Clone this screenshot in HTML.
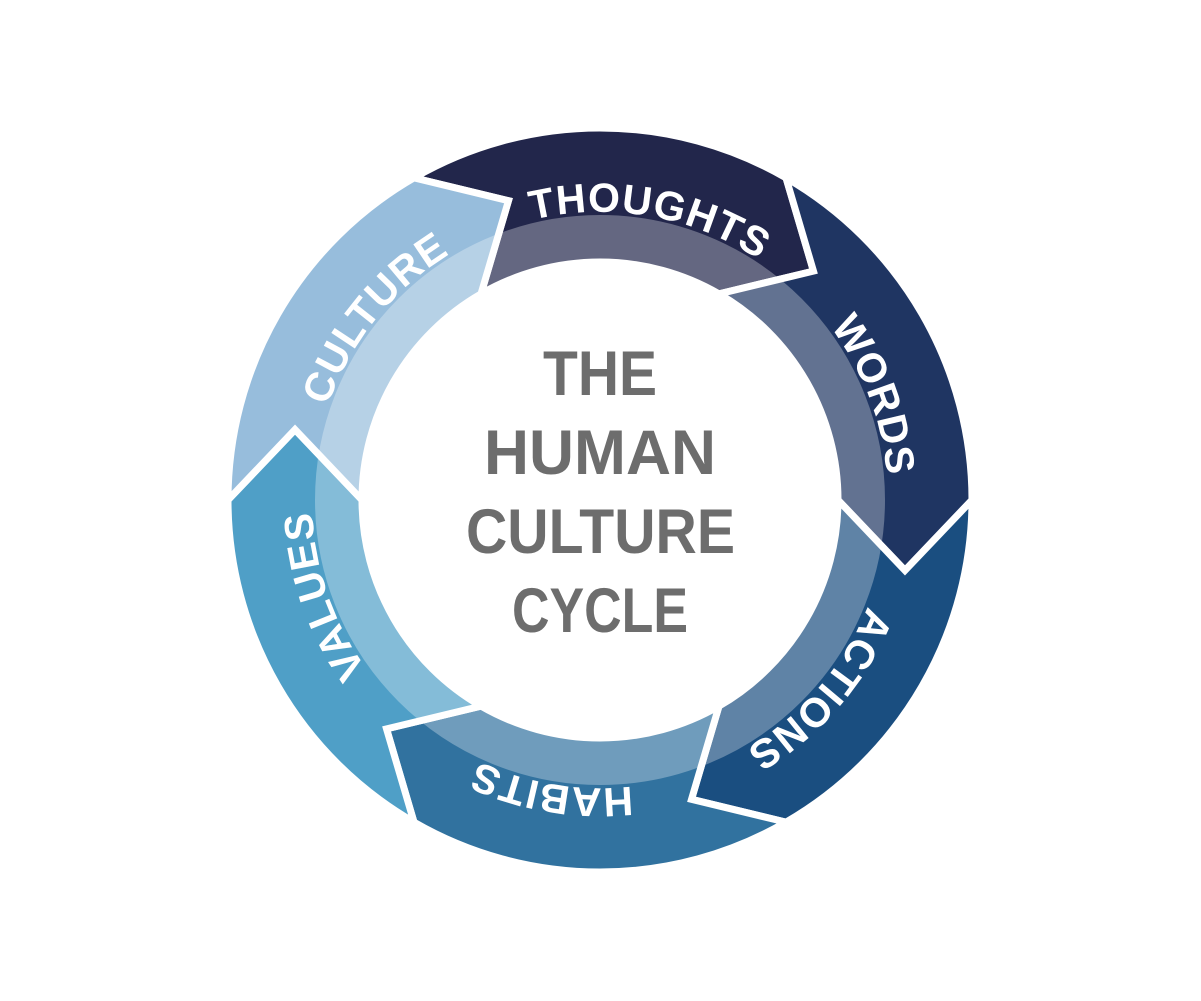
<!DOCTYPE html>
<html><head><meta charset="utf-8"><style>
html,body{margin:0;padding:0;background:#fff;}
svg{display:block;}
.lbl{font-family:"Liberation Sans",sans-serif;font-weight:bold;font-size:41px;fill:#fff;letter-spacing:1px;}
.ctr{font-family:"Liberation Sans",sans-serif;font-weight:bold;font-size:63px;fill:#6d6d6d;}
</style></head><body>
<svg id="s" width="1201" height="1001" viewBox="0 0 1201 1001" xmlns="http://www.w3.org/2000/svg">
<defs>
<path id="tp" d="M 312,500 A 288 288 0 1 1 888,500 A 288 288 0 1 1 312,500"/>
</defs>
<g id="segs"></g>
<circle cx="600" cy="500" r="262.5" fill="none" stroke="#fff" stroke-opacity="0.3" stroke-width="45"/>
<circle cx="600" cy="500" r="240" fill="#fff"/>
<text class="lbl" text-anchor="middle"><textPath href="#tp" startOffset="27.78%">THOUGHTS</textPath></text>
<text class="lbl" text-anchor="middle"><textPath href="#tp" startOffset="44.2%">WORDS</textPath></text>
<text class="lbl" text-anchor="middle"><textPath href="#tp" startOffset="61.3%">ACTIONS</textPath></text>
<text class="lbl" text-anchor="middle"><textPath href="#tp" startOffset="77.6%">HABITS</textPath></text>
<text class="lbl" text-anchor="middle"><textPath href="#tp" startOffset="94.7%">VALUES</textPath></text>
<text class="lbl" text-anchor="middle"><textPath href="#tp" startOffset="10.8%">CULTURE</textPath></text>
<text class="ctr" x="543" y="395" textLength="114" lengthAdjust="spacingAndGlyphs">THE</text>
<text class="ctr" x="484" y="474" textLength="232" lengthAdjust="spacingAndGlyphs">HUMAN</text>
<text class="ctr" x="466" y="553" textLength="269" lengthAdjust="spacingAndGlyphs">CULTURE</text>
<text class="ctr" x="512" y="632" textLength="176" lengthAdjust="spacingAndGlyphs">CYCLE</text>
</svg>
<script>
(function(){
var cx=600,cy=500,R=372,ri=238,rt=313,off=13;
var cols=["#22264b","#1f3562","#1a4e80","#31729f","#4f9fc7","#97bddc"];
var starts=[-120,-60,0,60,120,180];
function p(a,r){var t=a*Math.PI/180;return (cx+r*Math.cos(t)).toFixed(2)+","+(cy+r*Math.sin(t)).toFixed(2);}
var g=document.getElementById("segs"),h="";
for(var i=0;i<6;i++){
 var a0=starts[i],a1=a0+60;
 var d="M "+p(a0,R)+" A "+R+" "+R+" 0 0 1 "+p(a1,R)+" L "+p(a1+off,rt)+" L "+p(a1,ri)+
 " A "+ri+" "+ri+" 0 0 0 "+p(a0,ri)+" L "+p(a0+off,rt)+" Z";
 h+='<path d="'+d+'" fill="'+cols[i]+'" stroke="#fff" stroke-width="7" stroke-linejoin="miter"/>';
}
g.innerHTML=h;
})();
</script>
</body></html>
